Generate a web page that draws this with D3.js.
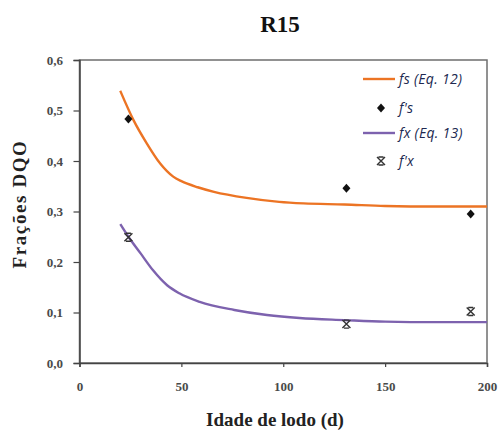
<!DOCTYPE html>
<html><head><meta charset="utf-8">
<script src="https://cdn.jsdelivr.net/npm/d3@7"></script>
<style>body{margin:0;background:#fff}svg{display:block}</style>
</head><body>
<svg id="c" width="501" height="431"></svg>
<script>
// Data
const fsCurveX = [20, 26.5, 33, 39.6, 46, 50, 58, 66, 82, 98, 110, 130, 150, 175, 200];
const fsCurveY = [0.539, 0.481, 0.435, 0.395, 0.369, 0.360, 0.348, 0.339, 0.327, 0.319, 0.316, 0.314, 0.311, 0.310, 0.310];
const fxCurveX = [20, 24, 30, 36, 43, 49, 59, 76, 92, 108, 130, 150, 175, 200];
const fxCurveY = [0.275, 0.250, 0.217, 0.184, 0.154, 0.138, 0.121, 0.105, 0.095, 0.089, 0.085, 0.082, 0.081, 0.081];
const fsObsX = [24, 131, 192];
const fsObsY = [0.483, 0.346, 0.295];
const fxObsX = [24, 131, 192];
const fxObsY = [0.249, 0.077, 0.102];
const xTicks = [0, 50, 100, 150, 200];
const yTicks = [0, 0.1, 0.2, 0.3, 0.4, 0.5, 0.6];
const legendLabels = ["fs (Eq. 12)", "f's", "fx (Eq. 13)", "f'x"];

const svg = d3.select("#c");
const x = d3.scaleLinear().domain([0, 200]).range([79.5, 487]);
const y = d3.scaleLinear().domain([0, 0.6]).range([363, 60]);
const serif = "'Liberation Serif','DejaVu Serif',serif";
const frame = "#6e6e6e";

// frame
svg.append("rect").attr("x", x(0)).attr("y", y(0.6)).attr("width", x(200) - x(0)).attr("height", y(0) - y(0.6))
  .attr("fill", "none").attr("stroke", frame).attr("stroke-width", 1.5);

// axes
const fmt = d => d3.format(".1f")(d).replace(".", ",");
const xAxis = svg.append("g").attr("transform", `translate(0,${y(0)})`)
  .call(d3.axisBottom(x).tickValues(xTicks).tickSize(4).tickPadding(15).tickFormat(d3.format("d")));
const yAxis = svg.append("g").attr("transform", `translate(${x(0)},0)`)
  .call(d3.axisLeft(y).tickValues(yTicks).tickSize(6).tickPadding(10.5).tickFormat(fmt));
[xAxis, yAxis].forEach(g => {
  g.select(".domain").attr("stroke", "#444").attr("stroke-width", 1.5);
  g.selectAll(".tick line").attr("stroke", "#444").attr("stroke-width", 1.2);
  g.selectAll(".tick text").attr("fill", "#4a4a4a").attr("font-family", serif).attr("font-size", 13).attr("font-weight", "bold");
});

// curves
const line = d3.line().x(d => x(d[0])).y(d => y(d[1])).curve(d3.curveMonotoneX);
svg.append("path").datum(fsCurveX.map((v, i) => [v, fsCurveY[i]]))
  .attr("d", line).attr("fill", "none").attr("stroke", "#EC7424").attr("stroke-width", 2.4);
svg.append("path").datum(fxCurveX.map((v, i) => [v, fxCurveY[i]]))
  .attr("d", line).attr("fill", "none").attr("stroke", "#7D62AE").attr("stroke-width", 2.4);

// markers
const diamond = (g, cx, cy) => g.append("path")
  .attr("d", `M${cx},${cy - 4.5}L${cx + 4},${cy}L${cx},${cy + 4.5}L${cx - 4},${cy}Z`).attr("fill", "#111");
const star = (g, cx, cy) => g.append("path")
  .attr("d", `M${cx - 4},${cy - 4}L${cx + 4},${cy + 4}M${cx + 4},${cy - 4}L${cx - 4},${cy + 4}M${cx - 2.5},${cy - 4}L${cx + 2.5},${cy - 4}M${cx - 2.5},${cy + 4}L${cx + 2.5},${cy + 4}`)
  .attr("stroke", "#333").attr("stroke-width", 1.4).attr("fill", "none");
fsObsX.forEach((v, i) => diamond(svg, x(v), y(fsObsY[i])));
fxObsX.forEach((v, i) => star(svg, x(v), y(fxObsY[i])));

// legend
const lg = svg.append("g");
const ly = [79, 108, 133, 161];
const sans = "'Open Sans','Noto Sans',sans-serif";
lg.append("line").attr("x1", 363).attr("x2", 395).attr("y1", ly[0]).attr("y2", ly[0]).attr("stroke", "#EC7424").attr("stroke-width", 2.4);
diamond(lg, 381, ly[1]);
lg.append("line").attr("x1", 363).attr("x2", 395).attr("y1", ly[2]).attr("y2", ly[2]).attr("stroke", "#7D62AE").attr("stroke-width", 2.4);
star(lg, 381, ly[3]);
legendLabels.forEach((lab, i) => {
  lg.append("text").attr("x", 399).attr("y", ly[i] + 5).attr("font-family", sans)
    .attr("font-size", 14).attr("letter-spacing", 0.3).attr("font-style", "italic").attr("fill", "#202850").text(lab);
});

// titles
svg.append("text").attr("x", 280).attr("y", 31.5).attr("text-anchor", "middle").attr("font-family", serif)
  .attr("font-weight", "bold").attr("font-size", 23).attr("fill", "#111").text("R15");
svg.append("text").attr("x", 275).attr("y", 426).attr("text-anchor", "middle").attr("font-family", serif)
  .attr("font-weight", "bold").attr("font-size", 19).attr("fill", "#222").text("Idade de lodo (d)");
svg.append("text").attr("transform", "translate(26,204) rotate(-90)").attr("text-anchor", "middle").attr("font-family", serif)
  .attr("font-weight", "bold").attr("font-size", 19).attr("letter-spacing", 1.6).attr("fill", "#222").text("Frações DQO");
</script>
</body></html>
